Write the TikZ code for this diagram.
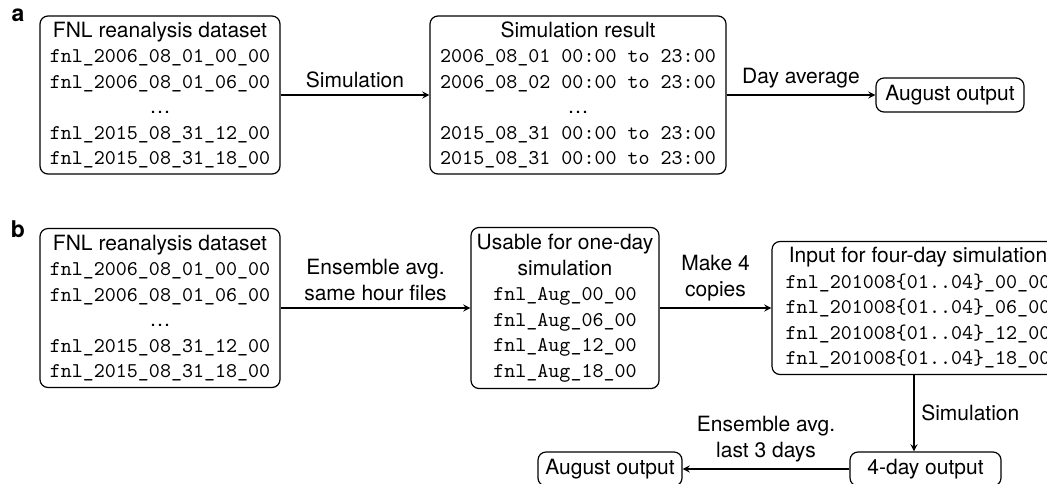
\documentclass[tikz,border=0pt]{standalone}
\usepackage{fontspec}
\setmainfont{TeX Gyre Heros}
\usetikzlibrary{calc}

\begin{document}
\begin{tikzpicture}[x=0.5pt,y=-0.5pt,line width=0.6pt,
  font=\fontsize{10.5}{12.75}\selectfont,
  box/.style={draw,rounded corners=4pt,align=center,inner sep=0pt},
  arr/.style={-stealth},
  lbl/.style={align=center}]
\clip (0,0) rectangle (1047,483);
% panel a
\node[font=\bfseries\fontsize{11.5}{11.5}\selectfont] (pa) at (18,15) {a};
\node[box,minimum width=120pt,minimum height=79pt] (fnla) at (160,95)
  {FNL reanalysis dataset\\
   \texttt{fnl\_2006\_08\_01\_00\_00}\\
   \texttt{fnl\_2006\_08\_01\_06\_00}\\
   \dots\\
   \texttt{fnl\_2015\_08\_31\_12\_00}\\
   \texttt{fnl\_2015\_08\_31\_18\_00}};
\node[box,minimum width=148pt,minimum height=79pt] (resa) at (578,95)
  {Simulation result\\
   \texttt{2006\_08\_01 00:00 to 23:00}\\
   \texttt{2006\_08\_02 00:00 to 23:00}\\
   \dots\\
   \texttt{2015\_08\_31 00:00 to 23:00}\\
   \texttt{2015\_08\_31 00:00 to 23:00}};
\node[box,minimum width=74pt,minimum height=17pt] (auga) at (950,95) {August output};
\draw[arr] (fnla) -- node[lbl,above]{Simulation} (resa);
\draw[arr] (resa) -- node[lbl,above]{Day average} (auga);
% panel b
\node[font=\bfseries\fontsize{11.5}{11.5}\selectfont] (pb) at (18,229) {b};
\node[box,minimum width=120pt,minimum height=79.5pt] (fnlb) at (160,308)
  {FNL reanalysis dataset\\
   \texttt{fnl\_2006\_08\_01\_00\_00}\\
   \texttt{fnl\_2006\_08\_01\_06\_00}\\
   \dots\\
   \texttt{fnl\_2015\_08\_31\_12\_00}\\
   \texttt{fnl\_2015\_08\_31\_18\_00}};
\node[box,minimum width=94pt,minimum height=80.5pt] (usable) at (565,308)
  {Usable for one-day\\
   simulation\\
   \texttt{fnl\_Aug\_00\_00}\\
   \texttt{fnl\_Aug\_06\_00}\\
   \texttt{fnl\_Aug\_12\_00}\\
   \texttt{fnl\_Aug\_18\_00}};
\node[box,minimum width=146pt,minimum height=66.5pt] (input) at (918,308)
  {Input for four-day simulation\\
   \texttt{fnl\_201008\{01..04\}\_00\_00}\\
   \texttt{fnl\_201008\{01..04\}\_06\_00}\\
   \texttt{fnl\_201008\{01..04\}\_12\_00}\\
   \texttt{fnl\_201008\{01..04\}\_18\_00}};
\node[box,minimum width=75.5pt,minimum height=17pt] (dayfour) at (925.5,469) {4-day output};
\node[box,minimum width=72pt,minimum height=17pt] (augb) at (610,469) {August output};
\draw[arr] (fnlb) -- node[lbl,above]{Ensemble avg.\\same hour files} (usable);
\draw[arr] (usable) -- node[lbl,above]{Make 4\\copies} (input);
\draw[arr] ([xshift=-2pt]input.south) -- ([xshift=-2pt]input.south |- dayfour.north)
  node[midway,right]{Simulation};
\draw[arr] (dayfour) -- node[lbl,above]{Ensemble avg.\\last 3 days} (augb);
\end{tikzpicture}
\end{document}
